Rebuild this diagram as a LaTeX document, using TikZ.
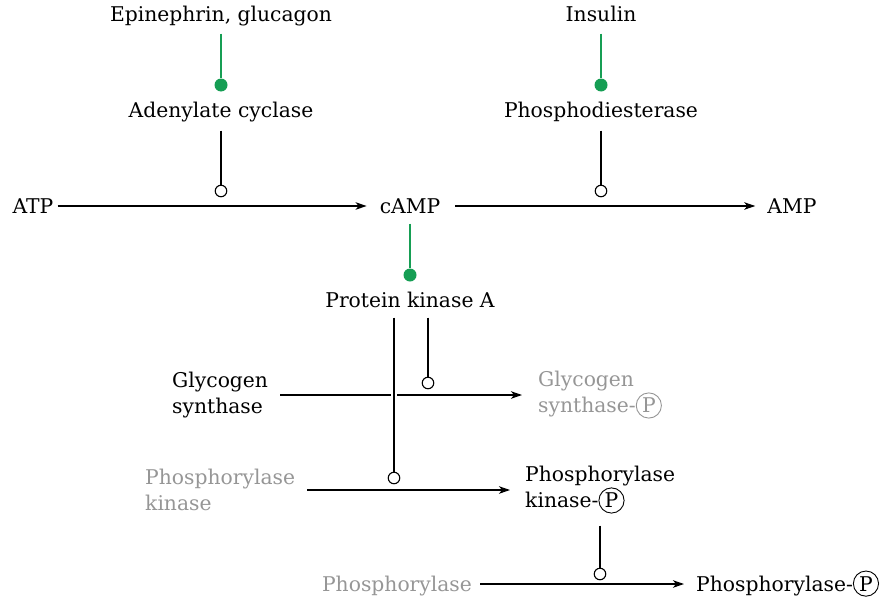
\documentclass[tikz,border=0pt]{standalone}
\usepackage{fontspec}
\setmainfont{DejaVu Serif}
\usetikzlibrary{arrows.meta}
\definecolor{grn}{RGB}{22,158,84}
\definecolor{gry}{RGB}{150,150,150}
\newcommand\cP[1][black]{\tikz[baseline=(cp.base)]\node[draw=#1,circle,inner sep=1.8pt,line width=0.9pt,text=#1,text height=,text depth=](cp){P};}
\begin{document}
\begin{tikzpicture}[x=1pt,y=-1pt,
  lbl/.style={inner sep=0pt,font=\fontsize{20.3}{26}\selectfont,text height=14.8pt,text depth=0pt},
  mlbl/.style={inner sep=0pt,font=\fontsize{20.3}{26}\selectfont,align=left},
  arr/.style={-{Stealth[length=11pt,width=7.5pt,inset=3pt]},line width=1.2pt},
  enz/.style={line width=1.2pt},
  gline/.style={grn,line width=1.2pt},
  dot/.style={circle,fill=grn,inner sep=0pt,minimum size=13pt},
  cat/.style={circle,draw,fill=white,inner sep=0pt,minimum size=11.5pt,line width=1.1pt}]
\useasboundingbox (0,0) rectangle (891,597);
% labels
\node[lbl] (epi) at (221,14) {Epinephrin, glucagon};
\node[lbl] (ins) at (601,14) {Insulin};
\node[lbl] (ac) at (221,110) {Adenylate cyclase};
\node[lbl] (pde) at (601,110) {Phosphodiesterase};
\node[lbl] (atp) at (33,206) {ATP};
\node[lbl] (camp) at (410,206) {cAMP};
\node[lbl] (amp) at (792,206) {AMP};
\node[lbl] (pka) at (410,300) {Protein kinase A};
\node[mlbl,anchor=west] (gs) at (172,395) {Glycogen\\synthase};
\node[mlbl,anchor=west,text=gry] (gsp) at (538,395) {Glycogen\\synthase-\cP[gry]};
\node[mlbl,anchor=west,text=gry] (phk) at (145,490) {Phosphorylase\\kinase};
\node[mlbl,anchor=west] (phkp) at (525,490) {Phosphorylase\\kinase-\cP};
\node[lbl,text=gry] (ph) at (397,584) {Phosphorylase};
\node[mlbl,anchor=base west] (php) at (696,591) {Phosphorylase-\cP};
% activation dots
\node[dot] (d1) at (221,85) {};
\node[dot] (d2) at (601,85) {};
\node[dot] (d3) at (410,275) {};
% catalysis circles
\node[cat] (c1) at (221,191) {};
\node[cat] (c2) at (601,191) {};
\node[cat] (c3) at (428,383) {};
\node[cat] (c4) at (394,478) {};
\node[cat] (c5) at (600,574) {};
% reactions
\draw[arr,shorten <=4pt,shorten >=13pt] (atp) -- (camp);
\draw[arr,shorten <=15pt,shorten >=12pt] (camp) -- (amp);
\draw[arr,shorten <=12pt,shorten >=16pt] (gs.east) -- (gs.east -| gsp.west);
\draw[arr,shorten <=12pt,shorten >=15pt] (phk.east) -- (phk.east -| phkp.west);
\draw[arr,shorten <=8pt,shorten >=12pt] (ph.east) -- (ph.east -| php.west);
% green activation
\draw[gline,shorten <=12pt] (epi) -- (d1);
\draw[gline,shorten <=12pt] (ins) -- (d2);
\draw[gline,shorten <=10pt] (camp) -- (d3);
% enzyme catalysis lines
\draw[enz,shorten <=13pt] (ac) -- (c1);
\draw[enz,shorten <=13pt] (pde) -- (c2);
\draw[enz,shorten <=10pt] (pka.south -| c3) -- (c3);
\draw[enz,shorten <=10pt,preaction={draw=white,line width=6pt,shorten <=20pt,shorten >=20pt}] (pka.south -| c4) -- (c4);
\draw[enz,shorten <=12pt] (phkp.south -| c5) -- (c5);
\end{tikzpicture}
\end{document}
